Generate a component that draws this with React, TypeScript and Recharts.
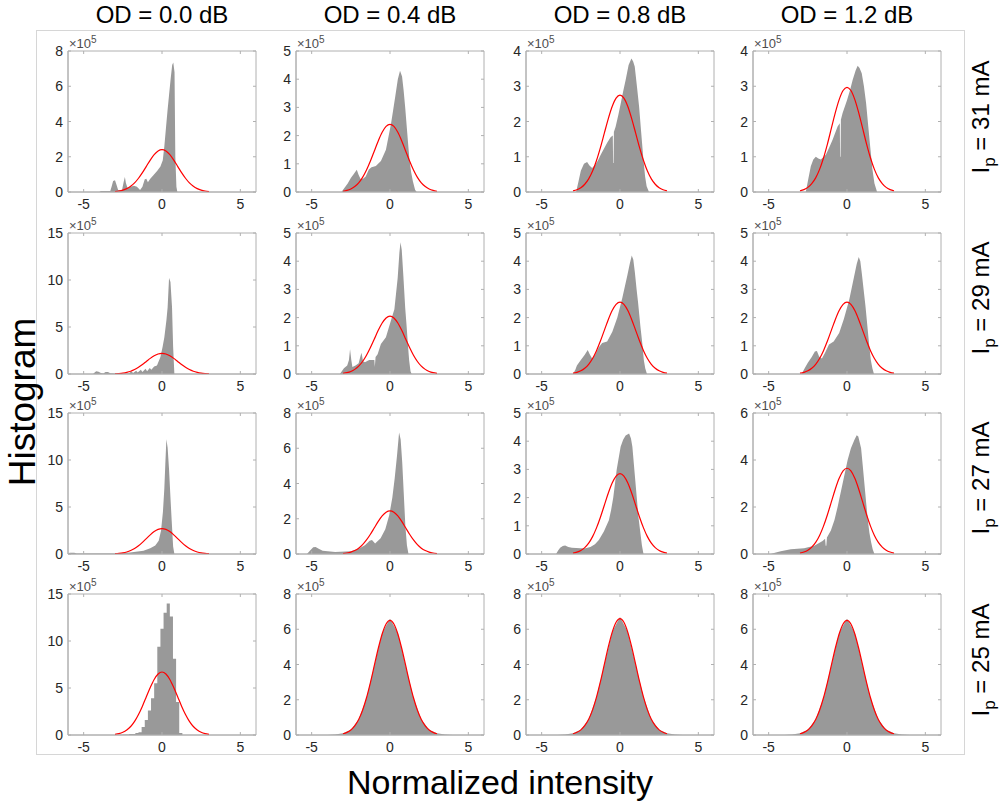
import React from 'react';
import { ComposedChart, Area, Line, XAxis, YAxis, ReferenceArea } from 'recharts';

// column / row headings
const odLabels = ['OD = 0.0 dB', 'OD = 0.4 dB', 'OD = 0.8 dB', 'OD = 1.2 dB'];
const currents = ['31', '29', '27', '25'];
const xTicks = [-5, 0, 5];

// y-axis top (in units of 10^5) for each row / column
const yMax = [
  [8, 5, 4, 4],
  [15, 5, 5, 5],
  [15, 8, 5, 6],
  [15, 8, 8, 8],
];
const yTickSets: Record<number, number[]> = {
  4: [0, 1, 2, 3, 4],
  5: [0, 1, 2, 3, 4, 5],
  6: [0, 2, 4, 6],
  8: [0, 2, 4, 6, 8],
  15: [0, 5, 10, 15],
};

// red fitted curve: x positions, normalised shape, and peak height per panel
const fitX = [-3, -2.75, -2.5, -2.25, -2, -1.75, -1.5, -1.25, -1, -0.75, -0.5, -0.25, 0,
  0.25, 0.5, 0.75, 1, 1.25, 1.5, 1.75, 2, 2.25, 2.5, 2.75, 3];
const fitShape = [0.011, 0.023, 0.044, 0.08, 0.135, 0.216, 0.325, 0.458, 0.607, 0.755, 0.882, 0.969, 1,
  0.969, 0.882, 0.755, 0.607, 0.458, 0.325, 0.216, 0.135, 0.08, 0.044, 0.023, 0.011];
const fitPeak = [
  [2.4, 2.4, 2.75, 2.97],
  [2.2, 2.05, 2.55, 2.55],
  [2.7, 2.45, 2.85, 3.65],
  [6.7, 6.5, 6.6, 6.5],
];

// histogram outlines, [intensity, count / 1e5]
const hist31_00 = [[-4.0, 0], [-3.9, 0.05], [-3.3, 0.06], [-3.2, 0.35], [-3.12, 0.62], [-3.0, 0.66], [-2.9, 0.4], [-2.8, 0.12], [-2.55, 0.12], [-2.45, 0.55], [-2.37, 0.85], [-2.3, 0.5], [-2.2, 0.22], [-2.0, 0.3], [-1.8, 0.35], [-1.6, 0.3], [-1.4, 0.12], [-1.25, 0.3], [-1.1, 0.72], [-1.0, 0.75], [-0.9, 0.55], [-0.75, 0.75], [-0.55, 0.95], [-0.3, 1.2], [-0.1, 1.45], [0.05, 1.8], [0.15, 2.6], [0.25, 3.6], [0.35, 4.6], [0.45, 5.5], [0.55, 6.4], [0.65, 7.2], [0.72, 7.35], [0.8, 6.8], [0.85, 2.0], [0.92, 0.3], [0.98, 0]];
const hist31_04 = [[-3.1, 0], [-2.9, 0.15], [-2.7, 0.3], [-2.5, 0.5], [-2.3, 0.65], [-2.12, 0.79], [-2.0, 0.6], [-1.87, 0.45], [-1.7, 0.48], [-1.55, 0.55], [-1.35, 0.8], [-1.18, 0.88], [-0.9, 0.92], [-0.58, 1.1], [-0.26, 1.5], [0.06, 2.4], [0.2, 2.9], [0.34, 3.4], [0.5, 4.0], [0.64, 4.3], [0.77, 4.1], [0.87, 3.6], [0.97, 3.0], [1.1, 2.1], [1.24, 1.15], [1.35, 0.7], [1.46, 0.38], [1.6, 0.08], [1.7, 0]];
const hist31_08 = [[-2.8, 0], [-2.65, 0.3], [-2.5, 0.6], [-2.3, 0.8], [-2.1, 0.85], [-1.95, 0.75], [-1.78, 0.68], [-1.57, 0.78], [-1.4, 0.9], [-1.24, 1.05], [-1.0, 1.25], [-0.82, 1.4], [-0.6, 1.55], [-0.46, 1.6], [-0.44, 0.82], [-0.41, 0.82], [-0.39, 1.7], [-0.28, 1.85], [-0.1, 2.2], [0.04, 2.5], [0.2, 2.85], [0.36, 3.18], [0.55, 3.6], [0.73, 3.79], [0.84, 3.7], [0.94, 3.56], [1.08, 3.0], [1.22, 2.42], [1.35, 1.7], [1.48, 1.0], [1.6, 0.45], [1.7, 0.16], [1.85, 0]];
const hist31_12 = [[-2.63, 0], [-2.48, 0.35], [-2.31, 0.73], [-2.15, 0.92], [-1.99, 1.0], [-1.83, 0.95], [-1.67, 0.92], [-1.35, 1.06], [-1.1, 1.3], [-0.92, 1.48], [-0.6, 1.86], [-0.46, 1.95], [-0.44, 1.0], [-0.41, 1.0], [-0.39, 2.05], [-0.28, 2.24], [0, 2.6], [0.2, 2.9], [0.36, 3.18], [0.55, 3.45], [0.68, 3.58], [0.8, 3.52], [0.94, 3.37], [1.08, 3.0], [1.22, 2.52], [1.36, 1.85], [1.5, 1.2], [1.62, 0.65], [1.75, 0.25], [1.92, 0]];

const hist29_00 = [[-4.4, 0], [-4.3, 0.15], [-4.2, 0.3], [-4.05, 0.25], [-3.9, 0.1], [-3.75, 0.05], [-3.6, 0.2], [-3.45, 0.2], [-3.3, 0.08], [-2.5, 0.03], [-2.1, 0.08], [-1.95, 0.3], [-1.85, 0.1], [-1.65, 0.35], [-1.55, 0.15], [-1.35, 0.45], [-1.25, 0.2], [-1.05, 0.55], [-0.95, 0.3], [-0.78, 0.65], [-0.68, 0.45], [-0.5, 0.8], [-0.32, 0.9], [-0.1, 1.8], [0.04, 2.9], [0.15, 3.9], [0.28, 5.7], [0.36, 7.1], [0.45, 10.2], [0.54, 9.8], [0.64, 7.1], [0.71, 2.9], [0.79, 0]];
const hist29_04 = [[-3.2, 0], [-2.94, 0.2], [-2.73, 0.3], [-2.62, 0.5], [-2.55, 0.88], [-2.47, 0.5], [-2.4, 0.25], [-2.2, 0.3], [-2.0, 0.38], [-1.9, 0.6], [-1.82, 0.75], [-1.72, 0.45], [-1.6, 0.42], [-1.33, 0.5], [-1.0, 0.5], [-0.97, 0.25], [-0.92, 0.6], [-0.79, 0.7], [-0.58, 1.06], [-0.26, 1.3], [0.06, 1.9], [0.28, 2.3], [0.49, 3.4], [0.6, 4.3], [0.67, 4.67], [0.75, 4.4], [0.85, 3.5], [0.97, 2.35], [1.06, 1.7], [1.14, 1.06], [1.22, 0.5], [1.31, 0.1], [1.38, 0]];
const hist29_08 = [[-3.0, 0], [-2.85, 0.15], [-2.75, 0.3], [-2.5, 0.5], [-2.25, 0.68], [-2.06, 0.85], [-1.95, 0.72], [-1.78, 0.55], [-1.57, 0.7], [-1.35, 0.95], [-1.14, 1.1], [-0.82, 1.15], [-0.49, 1.5], [-0.17, 2.0], [0.15, 2.7], [0.47, 3.5], [0.62, 3.9], [0.75, 4.2], [0.85, 4.05], [0.95, 3.6], [1.06, 3.0], [1.16, 2.5], [1.3, 1.7], [1.44, 1.0], [1.52, 0.5], [1.61, 0.2], [1.72, 0]];
const hist29_12 = [[-2.9, 0], [-2.7, 0.2], [-2.5, 0.4], [-2.25, 0.6], [-2.05, 0.8], [-1.92, 0.82], [-1.78, 0.62], [-1.6, 0.55], [-1.4, 0.75], [-1.15, 1.05], [-0.85, 1.15], [-0.5, 1.45], [-0.2, 1.95], [0.15, 2.65], [0.45, 3.45], [0.62, 3.9], [0.75, 4.15], [0.85, 4.0], [0.95, 3.55], [1.06, 3.0], [1.18, 2.4], [1.3, 1.7], [1.42, 1.0], [1.52, 0.5], [1.62, 0.2], [1.72, 0]];

const hist27_00 = [[-6, 0], [-5.9, 0.14], [-5.6, 0.14], [-5.45, 0.05], [-3.0, 0.06], [-2.04, 0.15], [-1.18, 0.35], [-0.75, 0.6], [-0.43, 0.9], [-0.21, 1.4], [-0.06, 2.5], [0.06, 4.5], [0.15, 7.0], [0.21, 9.5], [0.28, 12.2], [0.36, 11.3], [0.45, 9.0], [0.54, 6.0], [0.62, 3.5], [0.71, 0.8], [0.79, 0]];
const hist27_04 = [[-5.3, 0], [-5.1, 0.2], [-4.9, 0.38], [-4.75, 0.4], [-4.55, 0.3], [-4.3, 0.18], [-3.5, 0.12], [-2.5, 0.15], [-2.0, 0.3], [-1.6, 0.5], [-1.3, 0.75], [-1.15, 0.8], [-0.95, 0.6], [-0.6, 0.9], [-0.3, 1.4], [-0.05, 2.2], [0.15, 3.2], [0.3, 4.3], [0.45, 5.6], [0.58, 6.9], [0.68, 6.5], [0.78, 5.2], [0.88, 3.4], [0.98, 1.6], [1.08, 0.5], [1.18, 0]];
const hist27_08 = [[-4.08, 0], [-3.95, 0.12], [-3.82, 0.22], [-3.65, 0.28], [-3.5, 0.3], [-3.3, 0.25], [-3.07, 0.22], [-2.53, 0.2], [-2.2, 0.2], [-1.89, 0.25], [-1.6, 0.35], [-1.35, 0.5], [-1.03, 0.8], [-0.71, 1.2], [-0.57, 1.55], [-0.43, 2.0], [-0.21, 3.0], [0.04, 3.8], [0.2, 4.05], [0.36, 4.2], [0.58, 4.27], [0.7, 4.1], [0.79, 3.8], [0.93, 2.9], [1.07, 2.0], [1.18, 1.3], [1.29, 0.8], [1.4, 0.3], [1.5, 0]];
const hist27_12 = [[-4.87, 0], [-4.6, 0.05], [-4.23, 0.12], [-3.59, 0.2], [-2.74, 0.25], [-2.09, 0.35], [-1.56, 0.55], [-1.4, 0.65], [-1.36, 0.35], [-1.32, 0.35], [-1.28, 0.7], [-1.03, 1.0], [-0.8, 1.45], [-0.6, 2.0], [-0.28, 3.0], [0.04, 4.0], [0.25, 4.5], [0.47, 4.85], [0.62, 5.05], [0.72, 5.0], [0.9, 4.5], [1.0, 3.8], [1.11, 3.0], [1.22, 2.2], [1.32, 1.5], [1.43, 0.9], [1.54, 0.5], [1.64, 0.2], [1.75, 0]];

// 25 mA, OD 0.0 has coarse bins: left edge of each bin
const hist25_00 = [[-3.1, 0], [-2.9, 0.03], [-2.5, 0.05], [-2.1, 0.1], [-1.7, 0.2], [-1.5, 0.3], [-1.3, 0.85], [-1.1, 1.6], [-0.9, 2.6], [-0.7, 3.9], [-0.5, 5.5], [-0.3, 9.4], [-0.1, 11.3], [0.1, 13.0], [0.3, 14.0], [0.5, 12.6], [0.7, 8.1], [0.9, 3.5], [1.1, 0.2], [1.3, 0]];
const hist25_04 = [[-4, 0], [-3.5, 0.03], [-3, 0.1], [-2.5, 0.3], [-2, 0.88], [-1.5, 2.1], [-1, 3.95], [-0.5, 5.8], [0, 6.6], [0.5, 5.8], [1, 3.95], [1.5, 2.1], [2, 0.88], [2.5, 0.3], [3, 0.1], [3.5, 0.03], [4, 0]];
const hist25_08 = [[-4, 0], [-3.5, 0.03], [-3, 0.1], [-2.5, 0.3], [-2, 0.9], [-1.5, 2.15], [-1, 4.0], [-0.5, 5.85], [0, 6.7], [0.5, 5.85], [1, 4.0], [1.5, 2.15], [2, 0.9], [2.5, 0.3], [3, 0.1], [3.5, 0.03], [4, 0]];
const hist25_12 = [[-4, 0], [-3.5, 0.03], [-3, 0.1], [-2.5, 0.3], [-2, 0.88], [-1.5, 2.1], [-1, 3.95], [-0.5, 5.8], [0, 6.6], [0.5, 5.8], [1, 3.95], [1.5, 2.1], [2, 0.88], [2.5, 0.3], [3, 0.1], [3.5, 0.03], [4, 0]];

const histograms = [
  [hist31_00, hist31_04, hist31_08, hist31_12],
  [hist29_00, hist29_04, hist29_08, hist29_12],
  [hist27_00, hist27_04, hist27_08, hist27_12],
  [hist25_00, hist25_04, hist25_08, hist25_12],
];

// layout of the plot boxes on the page
const colLeft = [68, 296, 526, 753];
const rowTop = [51, 233, 413, 594];
const PLOT_W = 188;
const PLOT_H = 141;
const Y_W = 30;
const X_H = 22;
const M_TOP = 10;
const M_RIGHT = 2;

const AXIS = '#b0b0b0';
const TXT = '#262626';
const FONT = '"Liberation Sans", Arial, Helvetica, sans-serif';

function XTick(props: any) {
  const { x, y, payload } = props;
  return (
    <g>
      <line x1={x} x2={x} y1={y} y2={y - 3} stroke={AXIS} />
      <line x1={x} x2={x} y1={y - PLOT_H} y2={y - PLOT_H + 3} stroke={AXIS} />
      <text x={x} y={y + 17} textAnchor="middle" fontSize={14} fontFamily={FONT} fill={TXT}>
        {payload.value}
      </text>
    </g>
  );
}

function YTick(props: any) {
  const { x, y, payload } = props;
  return (
    <g>
      <line x1={x} x2={x + 3} y1={y} y2={y} stroke={AXIS} />
      <line x1={x + PLOT_W} x2={x + PLOT_W - 3} y1={y} y2={y} stroke={AXIS} />
      <text x={x - 5} y={y} dy="0.36em" textAnchor="end" fontSize={14} fontFamily={FONT} fill={TXT}>
        {payload.value}
      </text>
    </g>
  );
}

function Panel({ row, col }: { row: number; col: number }) {
  const ymax = yMax[row][col];
  const peak = fitPeak[row][col];
  const data = [
    ...histograms[row][col].map(([x, y]) => ({ x, h: y } as any)),
    ...fitX.map((x, i) => ({ x, g: fitShape[i] * peak } as any)),
  ].sort((a, b) => a.x - b.x);
  const coarse = row === 3 && col === 0;

  return (
    <div style={{ position: 'absolute', left: colLeft[col] - Y_W, top: rowTop[row] - M_TOP }}>
      <ComposedChart
        width={Y_W + PLOT_W + M_RIGHT}
        height={M_TOP + PLOT_H + X_H}
        data={data}
        margin={{ top: M_TOP, right: M_RIGHT, bottom: 0, left: 0 }}
      >
        <XAxis dataKey="x" type="number" domain={[-6, 6]} ticks={xTicks} allowDataOverflow interval={0}
          height={X_H} tickSize={0} tickMargin={0} stroke={AXIS} tick={<XTick />} />
        <YAxis type="number" domain={[0, ymax]} ticks={yTickSets[ymax]} allowDataOverflow interval={0}
          width={Y_W} tickSize={0} tickMargin={0} stroke={AXIS} tick={<YTick />} />
        <ReferenceArea x1={-6} x2={6} y1={0} y2={ymax} fill="none" stroke={AXIS} ifOverflow="visible" />
        <Area type={coarse ? 'stepAfter' : 'linear'} dataKey="h" stroke="none" fill="#999999" fillOpacity={1}
          connectNulls dot={false} activeDot={false} isAnimationActive={false} />
        <Line type="monotone" dataKey="g" stroke="#ff0000" strokeWidth={1.2} connectNulls dot={false}
          activeDot={false} isAnimationActive={false} />
      </ComposedChart>
    </div>
  );
}

export default function App() {
  const rowCenters = [117, 298, 478, 660];
  return (
    <div style={{ position: 'absolute', left: 0, top: 0, width: 1000, height: 805, background: '#fff', fontFamily: FONT }}>
      <div style={{ position: 'absolute', left: 36, top: 30, width: 929, height: 725, border: '1px solid #d6d6d6', boxSizing: 'border-box' }} />
      {rowTop.map((_, r) => colLeft.map((_, c) => <Panel key={`${r}-${c}`} row={r} col={c} />))}
      <svg width={1000} height={805} style={{ position: 'absolute', left: 0, top: 0, pointerEvents: 'none' }}>
        {odLabels.map((t, c) => (
          <text key={t} x={colLeft[c] + PLOT_W / 2} y={23} textAnchor="middle" fontSize={24} fontFamily={FONT} fill="#000">{t}</text>
        ))}
        {rowTop.map((top, r) => colLeft.map((left, c) => (
          <text key={`e${r}${c}`} x={left + 1} y={top - 3} fontSize={13} fontFamily={FONT} fill="#4d4d4d">
            ×10<tspan dy={-5} fontSize={10}>5</tspan>
          </text>
        )))}
        {currents.map((cur, r) => (
          <text key={cur} x={989} y={rowCenters[r]} transform={`rotate(-90 989 ${rowCenters[r]})`} textAnchor="middle"
            fontSize={24} fontFamily={FONT} fill="#000">
            I<tspan dy={6} fontSize={17}>p</tspan><tspan dy={-6}>{` = ${cur} mA`}</tspan>
          </text>
        ))}
        <text x={35} y={402} transform="rotate(-90 35 402)" textAnchor="middle" fontSize={37} fontFamily={FONT} fill="#000">Histogram</text>
        <text x={500} y={794} textAnchor="middle" fontSize={34} fontFamily={FONT} fill="#000">Normalized intensity</text>
      </svg>
    </div>
  );
}
